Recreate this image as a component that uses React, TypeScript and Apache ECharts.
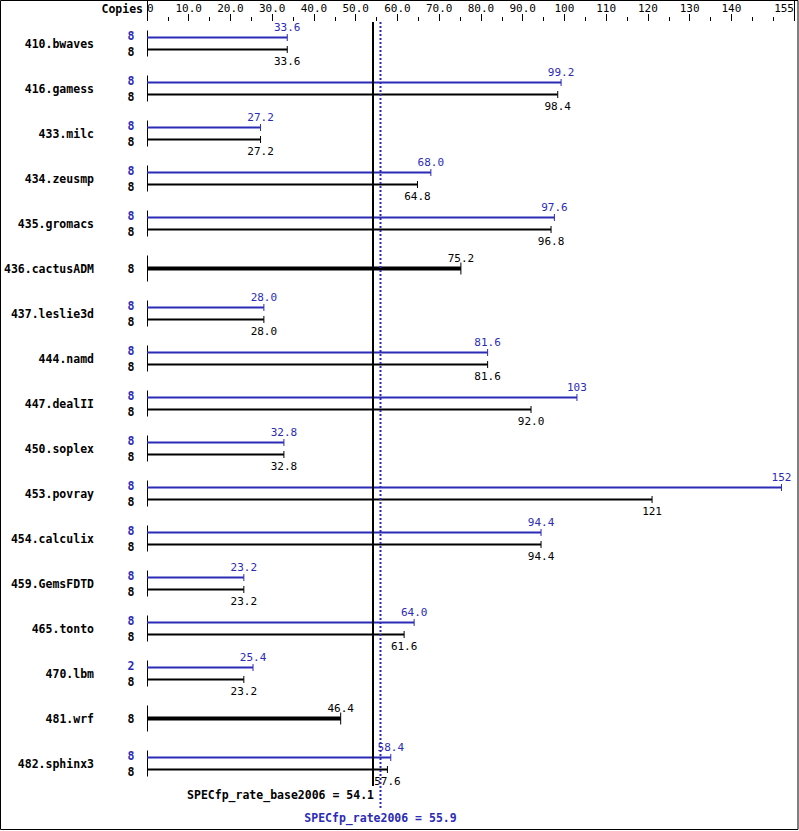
import React, { useEffect, useRef } from "react";
import * as echarts from "echarts";

const benchmarks = [
  "410.bwaves", "416.gamess", "433.milc", "434.zeusmp", "435.gromacs",
  "436.cactusADM", "437.leslie3d", "444.namd", "447.dealII", "450.soplex",
  "453.povray", "454.calculix", "459.GemsFDTD", "465.tonto", "470.lbm",
  "481.wrf", "482.sphinx3",
];
const peakValues: (number | null)[] = [
  33.6, 99.2, 27.2, 68.0, 97.6, null, 28.0, 81.6, 103, 32.8, 152, 94.4, 23.2, 64.0, 25.4, null, 58.4,
];
const baseValues: number[] = [
  33.6, 98.4, 27.2, 64.8, 96.8, 75.2, 28.0, 81.6, 92.0, 32.8, 121, 94.4, 23.2, 61.6, 23.2, 46.4, 57.6,
];
const peakCopies: (number | null)[] = [8, 8, 8, 8, 8, null, 8, 8, 8, 8, 8, 8, 8, 8, 2, null, 8];
const baseCopies: number[] = [8, 8, 8, 8, 8, 8, 8, 8, 8, 8, 8, 8, 8, 8, 8, 8, 8];

const tickLabels = [0, 10, 20, 30, 40, 50, 60, 70, 80, 90, 100, 110, 120, 130, 140, 155];
const majorTicks = [10, 20, 30, 40, 50, 60, 70, 80, 90, 100, 110, 120, 130, 140];
const minorTicks = [5, 15, 25, 35, 45, 55, 65, 75, 85, 95, 105, 115, 125, 135, 145, 150];
const edgeTicks = [0, 155];

const baseScore = 54.1;
const peakScore = 55.9;

const BLUE = "#2b2bb5";
const MONO = "'DejaVu Sans Mono', 'Liberation Mono', monospace";

const fmt = (v: number) => (v === 0 ? "0" : v >= 100 ? String(Math.round(v)) : v.toFixed(1));

export default function App() {
  const ref = useRef<HTMLDivElement>(null);
  useEffect(() => {
    if (!ref.current) return;
    const chart = echarts.init(ref.current, null, { renderer: "svg" });

    const xCommon = {
      type: "value" as const,
      min: 0,
      max: 155,
      position: "top" as const,
      axisLine: { show: false },
      splitLine: { show: false },
    };

    const rowData = benchmarks.map((_, i) => [i, baseValues[i], peakValues[i] ?? baseValues[i]]);

    chart.setOption({
      animation: false,
      backgroundColor: "#fff",
      grid: { left: 147, right: 5, top: 21, height: 765 },
      xAxis: [
        {
          ...xCommon,
          axisTick: { show: true, customValues: majorTicks, length: 7, lineStyle: { color: "#000", width: 1 } },
          axisLabel: {
            show: true,
            customValues: tickLabels,
            formatter: (v: number) => fmt(v),
            margin: 7,
            color: "#000",
            fontFamily: MONO,
            fontSize: 11,
            alignMinLabel: "left",
            alignMaxLabel: "right",
            showMinLabel: true,
            showMaxLabel: true,
          },
        },
        {
          ...xCommon,
          axisTick: { show: true, customValues: minorTicks, length: 4, lineStyle: { color: "#000", width: 1 } },
          axisLabel: { show: false },
        },
        {
          ...xCommon,
          axisTick: { show: true, customValues: edgeTicks, length: 20, lineStyle: { color: "#000", width: 1 } },
          axisLabel: { show: false },
        },
      ],
      yAxis: {
        type: "category",
        data: benchmarks,
        inverse: true,
        axisLine: { show: false },
        axisTick: { show: false },
        splitLine: { show: false },
        axisLabel: {
          margin: 53,
          color: "#000",
          fontFamily: MONO,
          fontWeight: "bold",
          fontSize: 11.5,
        },
      },
      graphic: [
        {
          type: "rect",
          shape: { x: 0.5, y: 0.5, width: 797.5, height: 829 },
          style: { fill: "none", stroke: "#000", lineWidth: 1 },
          silent: true,
        },
        {
          type: "text",
          x: 143,
          y: 9,
          style: {
            text: "Copies",
            align: "right",
            verticalAlign: "middle",
            fontFamily: MONO,
            fontWeight: "bold",
            fontSize: 11.5,
            fill: "#000",
          },
        },
      ],
      series: [
        {
          type: "custom",
          xAxisIndex: 0,
          clip: false,
          data: rowData,
          encode: { x: [1, 2], y: 0 },
          renderItem: (params: any, api: any) => {
            const idx = params.dataIndex;
            const cat = api.value(0);
            const base = api.value(1);
            const peak = api.value(2);
            const [x0, yc] = api.coord([0, cat]);
            const xb = api.coord([base, cat])[0];
            const hasPeak = peakValues[idx] != null;
            const txt = (text: string, x: number, y: number, fill: string, bold: boolean, align = "center") => ({
              type: "text",
              style: {
                text,
                x,
                y,
                align,
                verticalAlign: "middle",
                fontFamily: MONO,
                fontWeight: bold ? "bold" : "normal",
                fontSize: bold ? 11.5 : 11,
                fill,
              },
            });
            const ln = (x1: number, y1: number, x2: number, y2: number, stroke: string, w: number) => ({
              type: "line",
              shape: { x1, y1, x2, y2 },
              style: { stroke, lineWidth: w },
            });
            const children: any[] = [];
            children.push(ln(x0 + 0.5, yc - 13, x0 + 0.5, yc + 13, "#000", 1));
            if (hasPeak) {
              const xp = api.coord([peak, cat])[0];
              const yp = yc - 6;
              const yb = yc + 6;
              children.push(ln(x0, yp, xp, yp, BLUE, 2));
              children.push(ln(xp, yp - 3.5, xp, yp + 3.5, BLUE, 1));
              children.push(txt(fmt(peak), xp, yc - 16, BLUE, false));
              children.push(ln(x0, yb, xb, yb, "#000", 2));
              children.push(ln(xb, yb - 3.5, xb, yb + 3.5, "#000", 1));
              children.push(txt(fmt(base), xb, yc + 18, "#000", false));
              children.push(txt(String(peakCopies[idx]), 131, yc - 8, BLUE, true));
              children.push(txt(String(baseCopies[idx]), 131, yc + 8, "#000", true));
            } else {
              children.push(ln(x0, yc, xb, yc, "#000", 4));
              children.push(ln(xb, yc - 6, xb, yc + 6, "#000", 1));
              children.push(txt(fmt(base), xb, yc - 10.5, "#000", false));
              children.push(txt(String(baseCopies[idx]), 131, yc, "#000", true));
            }
            return { type: "group", children };
          },
        },
        {
          type: "custom",
          xAxisIndex: 0,
          clip: false,
          z: 5,
          data: [[baseScore, peakScore, 0]],
          encode: { x: [0, 1], y: 2 },
          renderItem: (params: any, api: any) => {
            const cs = params.coordSys;
            const xb = Math.round(api.coord([api.value(0), 0])[0]);
            const xp = Math.round(api.coord([api.value(1), 0])[0]) + 0.5;
            const top = cs.y + 1;
            const bottom = cs.y + cs.height;
            return {
              type: "group",
              children: [
                { type: "line", shape: { x1: xb, y1: top, x2: xb, y2: bottom }, style: { stroke: "#000", lineWidth: 2 } },
                {
                  type: "line",
                  shape: { x1: xp, y1: top, x2: xp, y2: bottom + 23 },
                  style: { stroke: BLUE, lineWidth: 2, lineDash: [2, 2] },
                },
                {
                  type: "text",
                  style: {
                    text: `SPECfp_rate_base2006 = ${api.value(0)}`,
                    x: xb + 1,
                    y: bottom + 9,
                    align: "right",
                    verticalAlign: "middle",
                    fontFamily: MONO,
                    fontWeight: "bold",
                    fontSize: 11.5,
                    fill: "#000",
                  },
                },
                {
                  type: "text",
                  style: {
                    text: `SPECfp_rate2006 = ${api.value(1)}`,
                    x: xp,
                    y: bottom + 32,
                    align: "center",
                    verticalAlign: "middle",
                    fontFamily: MONO,
                    fontWeight: "bold",
                    fontSize: 11.5,
                    fill: BLUE,
                  },
                },
              ],
            };
          },
        },
      ],
    });
    return () => chart.dispose();
  }, []);

  return (
    <div
      ref={ref}
      style={{ position: "absolute", left: 0, top: 0, width: 799, height: 831, background: "#fff" }}
    />
  );
}
